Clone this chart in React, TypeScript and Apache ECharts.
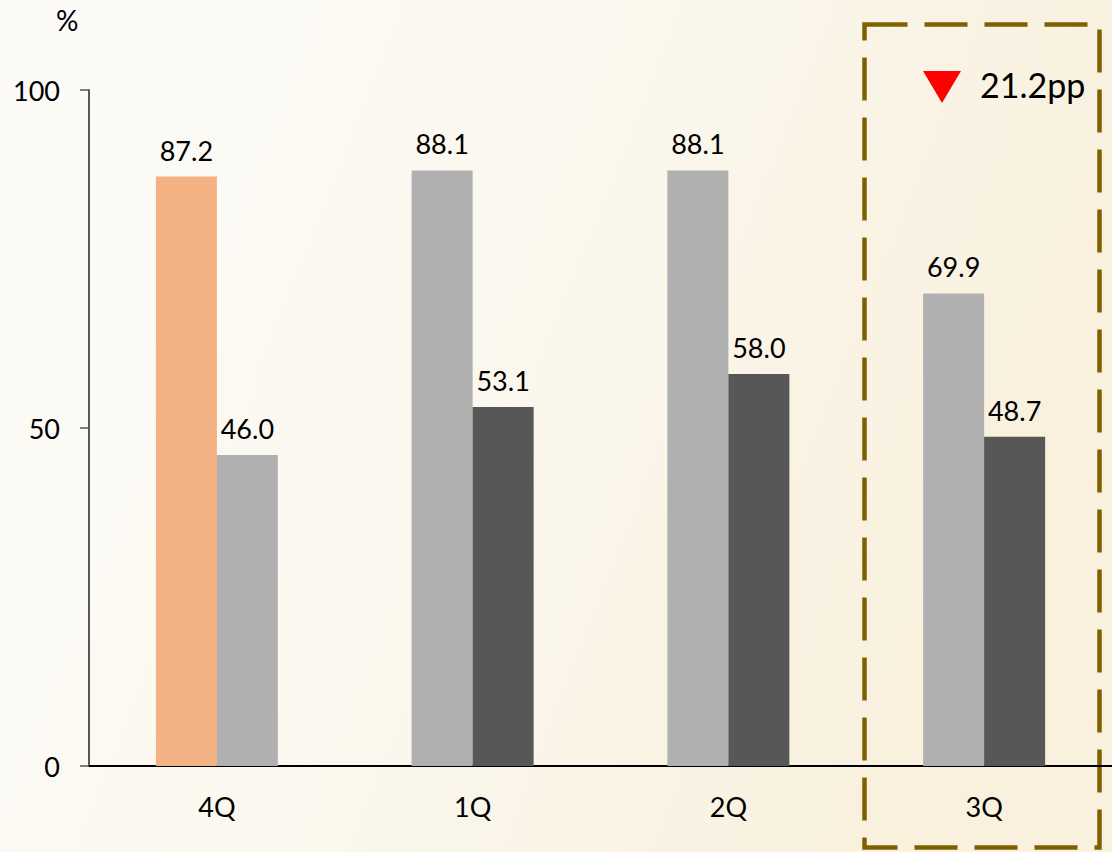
import React, { useEffect, useRef } from "react";
import * as echarts from "echarts";

const categories = ["4Q", "1Q", "2Q", "3Q"];
const seriesA = [87.2, 88.1, 88.1, 69.9];
const seriesB = [46.0, 53.1, 58.0, 48.7];
const yTicks = [0, 50, 100];
const unitLabel = "%";
const changeLabel = "21.2pp";

const colorsA = ["#F4B183", "#B0B0B0", "#B0B0B0", "#B0B0B0"];
const colorsB = ["#B0B0B0", "#575757", "#575757", "#575757"];
const FONT = "Lato, 'Noto Sans', sans-serif";

export default function App() {
  const ref = useRef<HTMLDivElement>(null);
  useEffect(() => {
    if (!ref.current) return;
    const chart = echarts.init(ref.current, null, { renderer: "svg" });
    const labelStyle = {
      show: true,
      position: "top",
      distance: 13,
      fontSize: 27,
      fontFamily: FONT,
      color: "#000",
      formatter: (p: any) => Number(p.value).toFixed(1),
    };
    chart.setOption({
      animation: false,
      backgroundColor: {
        type: "linear",
        x: 0, y: 0, x2: 1, y2: 0.3,
        colorStops: [
          { offset: 0, color: "#FCFBF8" },
          { offset: 0.5, color: "#FBF8EF" },
          { offset: 1, color: "#F9F0DD" },
        ],
      },
      grid: { left: 89, width: 1026, top: 90, bottom: 86, containLabel: false },
      xAxis: {
        type: "category",
        data: categories,
        axisLine: { show: true, lineStyle: { color: "#000", width: 2 } },
        axisTick: { show: false },
        axisLabel: { margin: 27, fontSize: 27, fontFamily: FONT, color: "#000" },
      },
      yAxis: {
        type: "value",
        min: yTicks[0],
        max: yTicks[yTicks.length - 1],
        interval: yTicks[1] - yTicks[0],
        splitLine: { show: false },
        axisLine: { show: true, lineStyle: { color: "#222", width: 1.5 } },
        axisTick: { show: true, length: 9, lineStyle: { color: "#555", width: 1.5 } },
        axisLabel: { margin: 29, fontSize: 27, fontFamily: FONT, color: "#000" },
      },
      series: [
        {
          type: "bar",
          data: seriesA.map((v, i) => ({ value: v, itemStyle: { color: colorsA[i] } })),
          barWidth: 61,
          barGap: "0%",
          label: labelStyle,
        },
        {
          type: "bar",
          data: seriesB.map((v, i) => ({ value: v, itemStyle: { color: colorsB[i] } })),
          barWidth: 61,
          barGap: "0%",
          label: labelStyle,
        },
      ],
      graphic: [
        {
          type: "text",
          left: 56,
          top: 6,
          style: { text: unitLabel, fontSize: 28, fontFamily: FONT, fill: "#000" },
        },
        {
          type: "rect",
          shape: { x: 864.5, y: 24.5, width: 235, height: 823 },
          style: {
            fill: "none",
            stroke: "#7F6000",
            lineWidth: 4.5,
            lineDash: [43, 17],
          },
        },
        {
          type: "polygon",
          shape: { points: [[923, 71], [961, 71], [942, 103]] },
          style: { fill: "#FF0000" },
        },
        {
          type: "text",
          x: 980,
          y: 84,
          style: {
            text: changeLabel,
            fontSize: 34,
            fontFamily: FONT,
            fill: "#000",
            verticalAlign: "middle",
          },
        },
      ],
    });
    return () => chart.dispose();
  }, []);
  return <div ref={ref} style={{ width: 1112, height: 852, position: "fixed", left: 0, top: 0 }} />;
}
